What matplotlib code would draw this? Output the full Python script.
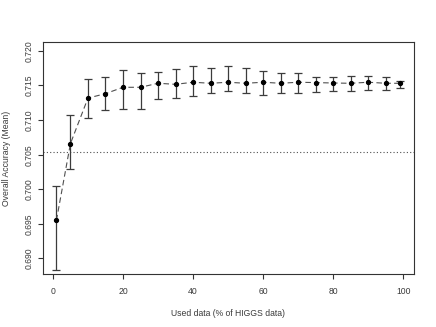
import matplotlib
matplotlib.use('Agg')
from matplotlib import pyplot as plt

plt.rcParams['font.family'] = ['Liberation Sans', 'DejaVu Sans']

# data
used_pct = [1, 5, 10, 15, 20, 25, 30, 35, 40, 45, 50, 55, 60, 65, 70, 75, 80, 85, 90, 95, 99]
acc_mean = [0.69551, 0.70660, 0.71318, 0.71382, 0.71474, 0.71474, 0.71532, 0.71517, 0.71547, 0.71532,
            0.71547, 0.71532, 0.71547, 0.71532, 0.71547, 0.71542, 0.71536, 0.71532, 0.71547, 0.71532, 0.71532]
acc_upper = [0.70049, 0.71071, 0.71594, 0.71624, 0.71731, 0.71682, 0.71696, 0.71740, 0.71775, 0.71760,
             0.71775, 0.71754, 0.71711, 0.71682, 0.71682, 0.71629, 0.71629, 0.71644, 0.71644, 0.71629, 0.71561]
acc_lower = [0.68839, 0.70297, 0.71033, 0.71140, 0.71164, 0.71164, 0.71310, 0.71324, 0.71353, 0.71397,
             0.71426, 0.71397, 0.71358, 0.71387, 0.71387, 0.71411, 0.71426, 0.71426, 0.71440, 0.71440, 0.71470]
baseline = 0.7054

x_ticks = [0, 20, 40, 60, 80, 100]
y_ticks = [0.690, 0.695, 0.700, 0.705, 0.710, 0.715, 0.720]

fig = plt.figure(figsize=(4.36, 3.27), dpi=100)
ax = fig.add_axes([0.0979, 0.1621, 0.8505, 0.7085])

err_lo = [m - l for m, l in zip(acc_mean, acc_lower)]
err_hi = [u - m for m, u in zip(acc_mean, acc_upper)]
ax.errorbar(used_pct, acc_mean, yerr=[err_lo, err_hi], fmt='none', ecolor='#3c3c3c',
            elinewidth=0.9, capsize=2.6, capthick=0.9, zorder=2)
ax.plot(used_pct, acc_mean, color='#505050', lw=0.8, linestyle=(0, (5, 3)), zorder=3)
ax.plot(used_pct, acc_mean, 'o', color='black', markersize=2.8, zorder=4)
ax.axhline(baseline, color='#505050', lw=0.8, linestyle=(0, (1, 2)), zorder=1)

ax.set_xlim(-2.92, 102.92)
ax.set_ylim(0.68776, 0.72124)
ax.set_xticks(x_ticks)
ax.set_xticklabels([str(v) for v in x_ticks])
ax.set_yticks(y_ticks)
ax.set_yticklabels(['{:.3f}'.format(v) for v in y_ticks], rotation=90, va='center')

for s in ax.spines.values():
    s.set_color('#333333')
    s.set_linewidth(0.8)
ax.tick_params(axis='both', length=3.6, width=0.8, color='#333333', labelsize=6.2, labelcolor='#3a3a3a')
ax.tick_params(axis='x', pad=5.6)
ax.tick_params(axis='y', pad=2.8)

ax.set_xlabel('Used data (% of HIGGS data)', fontsize=6.2, color='#3a3a3a', va='center')
ax.xaxis.set_label_coords(0.5, -0.1726)
ax.set_ylabel('Overall Accuracy (Mean)', fontsize=6.2, color='#3a3a3a', va='center')
ax.yaxis.set_label_coords(-0.0985, 0.5)

fig.savefig('out.png', dpi=100)
